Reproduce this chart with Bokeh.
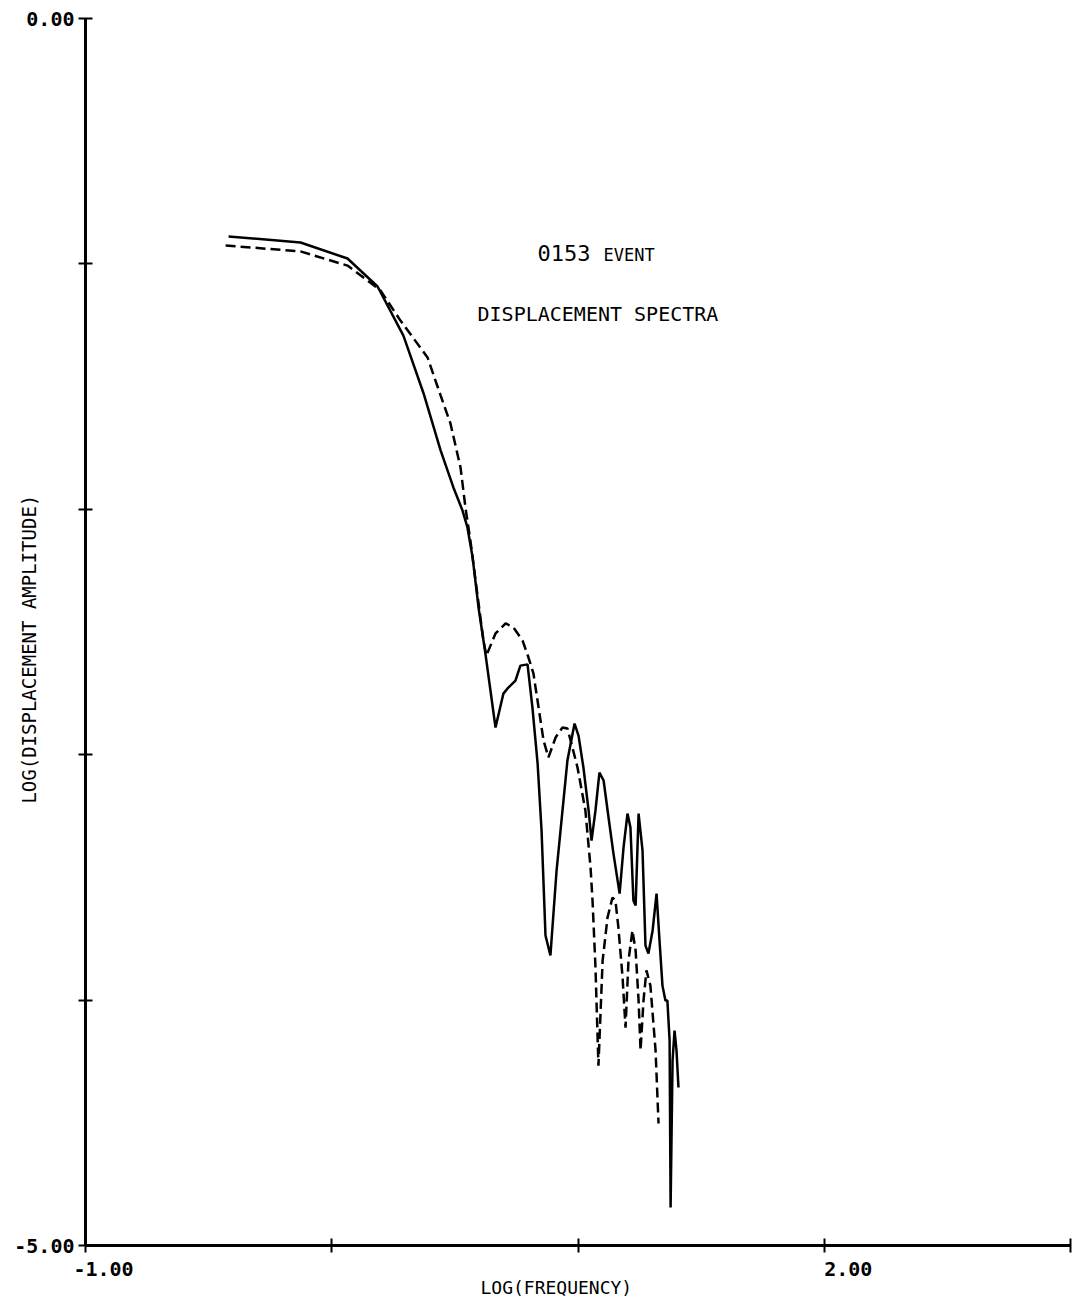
import math
from bokeh.plotting import figure
from bokeh.models import Range1d, FixedTicker, CustomJSTickFormatter, Label
from bokeh.embed import file_html
from bokeh.resources import INLINE

# ---- data (log10 frequency, log10 displacement amplitude) ----
solid_logf = [-0.419, -0.127, 0.064, 0.186, 0.291, 0.373, 0.442, 0.494, 0.531, 0.551,
              0.572, 0.596, 0.624, 0.665, 0.697, 0.714, 0.746, 0.766, 0.795, 0.815,
              0.836, 0.852, 0.868, 0.888, 0.913, 0.929, 0.941, 0.957, 0.986, 1.002,
              1.022, 1.043, 1.055, 1.071, 1.087, 1.104, 1.124, 1.144, 1.169, 1.185,
              1.201, 1.213, 1.225, 1.234, 1.246, 1.262, 1.274, 1.286, 1.303, 1.319,
              1.331, 1.343, 1.355, 1.363, 1.372, 1.376, 1.384, 1.392, 1.400, 1.408]
solid_logamp = [-0.888, -0.913, -0.978, -1.092, -1.292, -1.528, -1.760, -1.911, -2.005, -2.074,
                -2.196, -2.400, -2.588, -2.889, -2.751, -2.730, -2.698, -2.637, -2.632, -2.808,
                -3.036, -3.309, -3.737, -3.818, -3.472, -3.309, -3.187, -3.024, -2.873, -2.922,
                -3.052, -3.227, -3.350, -3.227, -3.073, -3.105, -3.256, -3.403, -3.566, -3.378,
                -3.240, -3.297, -3.594, -3.614, -3.240, -3.390, -3.778, -3.810, -3.716, -3.566,
                -3.757, -3.941, -4.002, -4.002, -4.165, -4.845, -4.246, -4.124, -4.205, -4.356]

dashed_logf = [-0.431, -0.127, 0.064, 0.198, 0.279, 0.389, 0.442, 0.482, 0.523, 0.543,
               0.563, 0.584, 0.616, 0.628, 0.665, 0.706, 0.738, 0.775, 0.799, 0.819,
               0.840, 0.860, 0.880, 0.909, 0.937, 0.957, 0.970, 0.998, 1.030, 1.051,
               1.059, 1.071, 1.083, 1.100, 1.120, 1.140, 1.152, 1.164, 1.181, 1.193,
               1.205, 1.221, 1.234, 1.246, 1.254, 1.266, 1.278, 1.294, 1.315, 1.327]
dashed_logamp = [-0.925, -0.949, -1.007, -1.108, -1.231, -1.381, -1.536, -1.650, -1.830, -1.993,
                 -2.127, -2.290, -2.535, -2.596, -2.506, -2.465, -2.482, -2.535, -2.604, -2.669,
                 -2.808, -2.942, -3.011, -2.930, -2.889, -2.893, -2.942, -3.052, -3.227, -3.460,
                 -3.594, -3.867, -4.267, -3.839, -3.663, -3.582, -3.594, -3.704, -3.908, -4.112,
                 -3.839, -3.716, -3.798, -4.002, -4.205, -4.002, -3.879, -3.941, -4.205, -4.503]

x_ticks = [-1, 0, 1, 2, 3]
y_ticks = [0, -1, -2, -3, -4, -5]

FONT = "DejaVu Sans Mono"
NB = "\u00a0"

p = figure(width=1072, height=1302, output_backend="svg", toolbar_location=None,
           x_range=Range1d(-1, 3), y_range=Range1d(-5, 0),
           min_border_left=85, min_border_right=2, min_border_top=18, min_border_bottom=57)
p.outline_line_color = None
p.grid.visible = False
p.background_fill_color = "white"
p.border_fill_color = "white"

for ax in (p.xaxis[0], p.yaxis[0]):
    ax.axis_line_width = 3
    ax.axis_line_color = "black"
    ax.major_tick_line_width = 2
    ax.major_tick_line_color = "black"
    ax.major_tick_in = 7
    ax.major_tick_out = 7
    ax.minor_tick_line_color = None
    ax.major_label_text_font = FONT
    ax.major_label_text_font_style = "bold"
    ax.major_label_text_font_size = "20px"
    ax.major_label_text_color = "black"
    ax.axis_label_text_font = FONT
    ax.axis_label_text_font_style = "normal"
    ax.axis_label_text_color = "black"

p.xaxis.ticker = FixedTicker(ticks=x_ticks, minor_ticks=[])
p.yaxis.ticker = FixedTicker(ticks=y_ticks, minor_ticks=[])

# x tick labels: only -1.00 and 2.00, set so that they start at their tick
p.xaxis.formatter = CustomJSTickFormatter(code="""
    const nb = '\\u00a0';
    if (Math.abs(tick + 1) < 1e-9) return nb.repeat(3) + '-1.00';
    if (Math.abs(tick - 2) < 1e-9) return nb.repeat(4) + '2.00';
    return '';
""")
p.yaxis.formatter = CustomJSTickFormatter(code="""
    if (Math.abs(tick) < 1e-9) return '0.00';
    if (Math.abs(tick + 5) < 1e-9) return '-5.00';
    return '';
""")
p.yaxis.major_label_standoff = 4
p.xaxis.major_label_standoff = 4

p.xaxis.axis_label = "LOG(FREQUENCY)" + NB * 4
p.xaxis.axis_label_text_font_size = "18px"
p.xaxis.axis_label_standoff = -7

p.yaxis.axis_label = "LOG(DISPLACEMENT AMPLITUDE)" + NB * 3
p.yaxis.axis_label_text_font_size = "19px"
p.yaxis.axis_label_standoff = -29

p.line(solid_logf, solid_logamp, line_color="black", line_width=2.5)
p.line(dashed_logf, dashed_logamp, line_color="black", line_width=2.5, line_dash="10 5")

# annotations
p.add_layout(Label(x=0.836, y=-0.954, text="0153", text_align="left", text_baseline="middle",
                   text_font=FONT, text_font_size="22px", text_color="black"))
p.add_layout(Label(x=1.104, y=-0.965, text="EVENT", text_align="left", text_baseline="middle",
                   text_font=FONT, text_font_size="17px", text_color="black"))
p.add_layout(Label(x=0.592, y=-1.206, text="DISPLACEMENT SPECTRA", text_align="left",
                   text_baseline="middle", text_font=FONT, text_font_size="20px",
                   text_color="black"))

open("out.html", "w").write(file_html(p, INLINE))
